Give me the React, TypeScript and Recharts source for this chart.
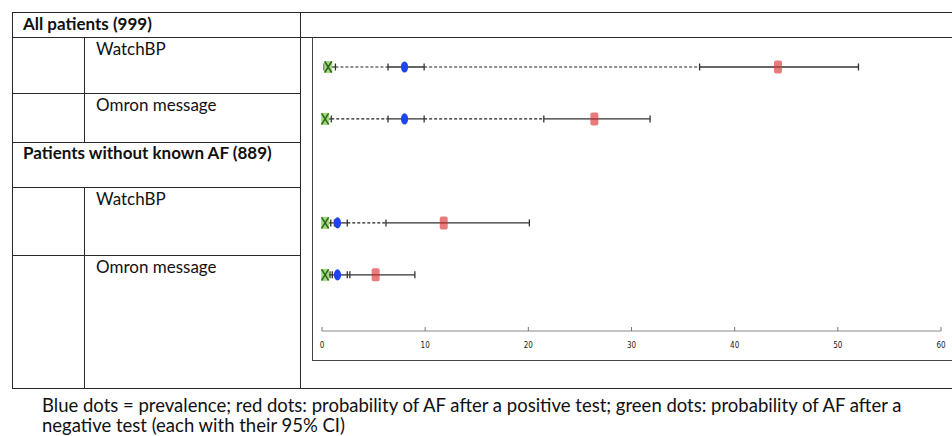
import React from "react";
import { ScatterChart, Scatter, XAxis, YAxis, ErrorBar, ReferenceLine } from "recharts";

// rows of the table that carry a result (row 3 is the subgroup heading)
const rowPos = [1, 2, 4, 5];

// green: probability of AF after a negative test
const negEst = [0.6, 0.3, 0.3, 0.3];
const negLo = [0.2, 0.1, 0.1, 0.1];
const negHi = [1.3, 0.9, 0.85, 0.78];

// blue: prevalence
const prevEst = [8.0, 8.0, 1.5, 1.5];
const prevLo = [6.4, 6.4, 1.2, 1.0];
const prevHi = [9.9, 9.9, 2.45, 2.45];

// red: probability of AF after a positive test
const posEst = [44.2, 26.4, 11.8, 5.2];
const posLo = [36.6, 21.5, 6.2, 2.7];
const posHi = [52.0, 31.8, 20.1, 9.0];

const xTicks = [0, 10, 20, 30, 40, 50, 60];

const build = (est: number[], lo: number[], hi: number[]) =>
  rowPos.map((y, i) => ({ x: est[i], y, err: [est[i] - lo[i], hi[i] - est[i]] }));

const negData = build(negEst, negLo, negHi);
const prevData = build(prevEst, prevLo, prevHi);
const posData = build(posEst, posLo, posHi);

const INK = "#2a2a2a";
const TXT = "Lato, 'Noto Sans', sans-serif";

const NegShape = (p: any) => {
  const { cx, cy } = p;
  return (
    <g>
      <rect x={cx - 4} y={cy - 6} width={8} height={12} fill="#9ddd78" />
      <path
        d={`M${cx - 3.5},${cy - 5.5}L${cx + 3.5},${cy + 5.5}M${cx + 3.5},${cy - 5.5}L${cx - 3.5},${cy + 5.5}`}
        stroke="#2f5f22"
        strokeWidth={1.5}
      />
    </g>
  );
};

const PrevShape = (p: any) => <ellipse cx={p.cx} cy={p.cy} rx={3.6} ry={5.6} fill="#1f45ee" />;

const PosShape = (p: any) => {
  const { cx, cy } = p;
  return (
    <g>
      <rect x={cx - 4} y={cy - 6.5} width={8} height={13} rx={2} fill="#e87c7c" />
      <line x1={cx - 4} x2={cx + 4} y1={cy} y2={cy} stroke="#8a2a2a" strokeWidth={1.2} />
    </g>
  );
};

const AxisTick = (p: any) => {
  const { x, y, payload } = p;
  return (
    <g>
      <line x1={x} x2={x} y1={y} y2={y - 4} stroke="#777" />
      <text
        x={x}
        y={y + 17}
        textAnchor="middle"
        fontSize={8}
        fill="#222"
        fontFamily="'DejaVu Sans Condensed', 'Liberation Sans Narrow', sans-serif"
      >
        {payload.value}
      </text>
    </g>
  );
};

const hLine = (top: number, left: number, width: number, key: string) => (
  <div key={key} style={{ position: "absolute", top, left, width, height: 0, borderTop: `1.5px solid ${INK}` }} />
);
const vLine = (left: number, top: number, height: number, key: string) => (
  <div key={key} style={{ position: "absolute", top, left, height, width: 0, borderLeft: `1.5px solid ${INK}` }} />
);
const label = (text: string, left: number, top: number, bold: boolean) => (
  <div
    key={text + top}
    style={{
      position: "absolute",
      left,
      top,
      fontFamily: TXT,
      fontSize: 17,
      fontWeight: bold ? 700 : 400,
      color: "#111",
      whiteSpace: "nowrap",
      lineHeight: "20px",
    }}
  >
    {text}
  </div>
);

export default function App() {
  return (
    <div style={{ position: "absolute", left: 0, top: 0, width: 952, height: 436, background: "#fff", overflow: "hidden" }}>
      {/* table grid */}
      {hLine(12, 12, 940, "t")}
      {hLine(37, 12, 940, "h")}
      {hLine(93, 12, 288, "r1")}
      {hLine(142, 12, 288, "r2")}
      {hLine(187, 12, 288, "r3")}
      {hLine(255, 12, 288, "r4")}
      {hLine(388, 12, 940, "b")}
      {vLine(12, 12, 377, "l")}
      {vLine(300, 12, 377, "m")}
      {vLine(84, 37, 105, "s1")}
      {vLine(84, 187, 201, "s2")}

      {label("All patients (999)", 23, 14, true)}
      {label("WatchBP", 96, 39, false)}
      {label("Omron message", 96, 95, false)}
      {label("Patients without known AF (889)", 23, 143, true)}
      {label("WatchBP", 96, 189, false)}
      {label("Omron message", 96, 257, false)}

      {/* chart frame */}
      <div
        style={{
          position: "absolute",
          left: 312,
          top: 37,
          width: 640,
          height: 324,
          borderLeft: "1px solid #444",
          borderBottom: "1px solid #444",
          boxSizing: "border-box",
        }}
      />

      <div style={{ position: "absolute", left: 312, top: 37 }}>
        <ScatterChart width={640} height={324} margin={{ top: 4, right: 11, bottom: 0, left: 10 }}>
          <XAxis
            type="number"
            dataKey="x"
            domain={[0, 60]}
            ticks={xTicks}
            height={30}
            tickSize={0}
            tickMargin={0}
            tickLine={false}
            axisLine={{ stroke: "#888" }}
            tick={<AxisTick />}
          />
          <YAxis type="number" dataKey="y" domain={[0.5, 6.08]} reversed hide />
          {rowPos.map((r, i) => (
            <ReferenceLine
              key={"a" + i}
              segment={[{ x: negHi[i], y: r }, { x: prevLo[i], y: r }]}
              stroke="#222"
              strokeWidth={1.2}
              strokeDasharray="3 2"
            />
          ))}
          {rowPos.map((r, i) => (
            <ReferenceLine
              key={"b" + i}
              segment={[{ x: prevHi[i], y: r }, { x: posLo[i], y: r }]}
              stroke="#222"
              strokeWidth={1.2}
              strokeDasharray="3 2"
            />
          ))}
          <Scatter data={posData} shape={PosShape} isAnimationActive={false}>
            <ErrorBar dataKey="err" direction="x" width={3.5} stroke="#333" strokeWidth={1.3} />
          </Scatter>
          <Scatter data={prevData} shape={PrevShape} isAnimationActive={false}>
            <ErrorBar dataKey="err" direction="x" width={3.5} stroke="#333" strokeWidth={1.3} />
          </Scatter>
          <Scatter data={negData} shape={NegShape} isAnimationActive={false}>
            <ErrorBar dataKey="err" direction="x" width={3.5} stroke="#333" strokeWidth={1.3} />
          </Scatter>
        </ScatterChart>
      </div>

      {/* caption */}
      <div
        style={{
          position: "absolute",
          left: 42,
          top: 395,
          width: 910,
          fontFamily: TXT,
          fontSize: 18.5,
          lineHeight: "20px",
          color: "#111",
        }}
      >
        <div style={{ whiteSpace: "nowrap" }}>
          Blue dots = prevalence; red dots: probability of AF after a positive test; green dots: probability of AF after a
        </div>
        <div style={{ whiteSpace: "nowrap" }}>negative test (each with their 95% CI)</div>
      </div>
    </div>
  );
}
